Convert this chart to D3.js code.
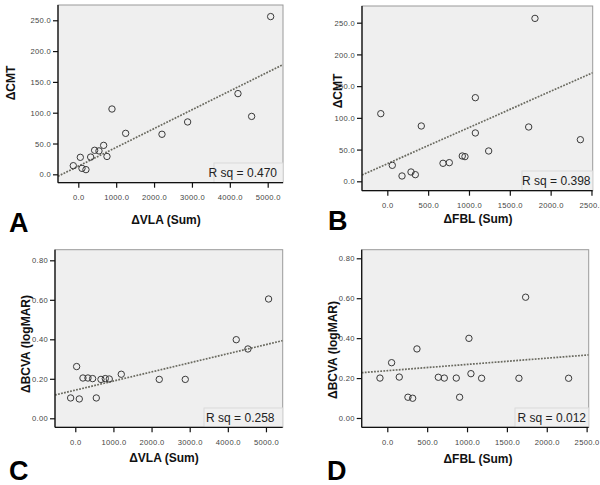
<!DOCTYPE html>
<html><head><meta charset="utf-8">
<script src="https://cdn.jsdelivr.net/npm/d3@7"></script>
<style>body{margin:0;background:#fff}svg{display:block}</style>
</head><body>
<svg id="c" width="600" height="485"></svg>
<script>
// ---- data ----
const vlaA = [-132, 53, 97, 202, 326, 431, 546, 669, 757, 889, 1250, 2209, 2886, 4215, 4576, 5078];
const cmtA = [14, 27.6, 9.7, 7.6, 28, 39, 38, 47, 29, 106, 66.5, 65, 85, 131, 94, 256];
const fblB = [-80, 61, 180, 290, 343, 416, 682, 759, 918, 951, 1078, 1078, 1241, 1731, 1808, 2364];
const cmtB = [106.6, 25.2, 8.4, 14.7, 10.5, 87.2, 28.4, 29.4, 39.9, 38.9, 131.8, 76.2, 47.8, 85.6, 256.8, 65.6];
const vlaC = [-122, 35, 105, 201, 332, 454, 551, 673, 787, 891, 1206, 2202, 2884, 4221, 4527, 5069];
const bcvaC = [0.103, 0.262, 0.098, 0.204, 0.204, 0.201, 0.103, 0.197, 0.201, 0.199, 0.223, 0.197, 0.197, 0.398, 0.351, 0.604];
const fblD = [-92, 54, 150, 259, 318, 372, 640, 715, 865, 907, 1024, 1049, 1183, 1651, 1735, 2274];
const bcvaD = [0.200, 0.277, 0.205, 0.104, 0.099, 0.346, 0.204, 0.200, 0.200, 0.104, 0.399, 0.222, 0.199, 0.199, 0.605, 0.199];
const fitIntercepts = [13.2, 27.7, 0.1426, 0.237];
const fitSlopes = [0.0305, 0.05706, 0.0000461, 0.0000313];
const rsqLabels = ["R sq = 0.470", "R sq = 0.398", "R sq = 0.258", "R sq = 0.012"];
const panelLetters = ["A", "B", "C", "D"];
const xTitles = ["\u0394VLA (Sum)", "\u0394FBL (Sum)", "\u0394VLA (Sum)", "\u0394FBL (Sum)"];
const yTitles = ["\u0394CMT", "\u0394CMT", "\u0394BCVA (logMAR)", "\u0394BCVA (logMAR)"];
const xTicksVLA = [0, 1000, 2000, 3000, 4000, 5000];
const xTicksFBL = [0, 500, 1000, 1500, 2000, 2500];
const yTicksCMT = [0, 50, 100, 150, 200, 250];
const yTicksBCVA = [0, 0.2, 0.4, 0.6, 0.8];
const xDomains = [[-536, 5404], [-310, 2515], [-532, 5439], [-321, 2526]];
const yDomains = [[-13.6, 274.8], [-14.8, 276.3], [-0.0456, 0.8537], [-0.0466, 0.843]];

// ---- layout ----
const panels = [
  {xs: vlaA, ys: cmtA, xt: xTicksVLA, yt: yTicksCMT, xf: d3.format(".1f"), yf: d3.format(".1f"),
   box: [58, 283, 5, 182.7], xTitle: [166, 224], yTitle: [15, 83], letter: [9, 232], rsq: [277, 177], rbox: [214, 163]},
  {xs: fblB, ys: cmtB, xt: xTicksFBL, yt: yTicksCMT, xf: d3.format(".1f"), yf: d3.format(".1f"),
   box: [362, 592.7, 6, 190.7], xTitle: [478, 223], yTitle: [342, 91], letter: [328, 230], rsq: [590.5, 184.5], rbox: [522, 171]},
  {xs: vlaC, ys: bcvaC, xt: xTicksVLA, yt: yTicksBCVA, xf: d3.format(".1f"), yf: d3.format(".2f"),
   box: [55, 282.7, 249.7, 427.3], xTitle: [164, 462], yTitle: [30, 344], letter: [9, 480], rsq: [274.5, 421.5], rbox: [204, 408]},
  {xs: fblD, ys: bcvaD, xt: xTicksFBL, yt: yTicksBCVA, xf: d3.format(".1f"), yf: d3.format(".2f"),
   box: [361.7, 588.7, 249.7, 427.3], xTitle: [478, 463], yTitle: [337, 350], letter: [327, 480], rsq: [586, 421.5], rbox: [515, 408]}
];

const svg = d3.select("#c");
const TF = "Arial, 'Liberation Sans', sans-serif";

panels.forEach((p, i) => {
  const [x0, x1, y0, y1] = p.box;
  const x = d3.scaleLinear().domain(xDomains[i]).range([x0, x1]);
  const y = d3.scaleLinear().domain(yDomains[i]).range([y1, y0]);
  const g = svg.append("g");
  const clipId = "clip" + i;
  svg.append("defs").append("clipPath").attr("id", clipId)
    .append("rect").attr("x", x0).attr("y", y0).attr("width", x1 - x0).attr("height", y1 - y0);

  g.append("rect").attr("x", x0).attr("y", y0).attr("width", x1 - x0).attr("height", y1 - y0)
    .attr("fill", "#efefef").attr("stroke", "#9a9a9a").attr("stroke-width", 1);

  // R sq box
  g.append("rect").attr("x", p.rbox[0]).attr("y", p.rbox[1]).attr("width", x1 - p.rbox[0]).attr("height", y1 - p.rbox[1])
    .attr("fill", "#f0f0f0").attr("stroke", "#dadada").attr("stroke-width", 1);
  g.append("text").attr("x", p.rsq[0]).attr("y", p.rsq[1]).attr("text-anchor", "end")
    .attr("font-family", TF).attr("font-size", 12).attr("fill", "#222").text(rsqLabels[i]);

  // fit line
  const xd = xDomains[i];
  g.append("line").attr("clip-path", `url(#${clipId})`)
    .attr("x1", x(xd[0])).attr("y1", y(fitIntercepts[i] + fitSlopes[i] * xd[0]))
    .attr("x2", x(xd[1])).attr("y2", y(fitIntercepts[i] + fitSlopes[i] * xd[1]))
    .attr("stroke", "#6a6a60").attr("stroke-width", 1.7).attr("stroke-dasharray", "1.8,1.3");

  // points
  g.selectAll("circle.pt").data(p.xs.map((v, k) => [v, p.ys[k]])).join("circle")
    .attr("class", "pt").attr("cx", d => x(d[0])).attr("cy", d => y(d[1])).attr("r", 3.2)
    .attr("fill", "none").attr("stroke", "#3a3a3a").attr("stroke-width", 1);

  // axes
  const xa = g.append("g").attr("transform", `translate(0,${y1})`)
    .call(d3.axisBottom(x).tickValues(p.xt).tickFormat(p.xf).tickSize(5).tickPadding(7));
  const ya = g.append("g").attr("transform", `translate(${x0},0)`)
    .call(d3.axisLeft(y).tickValues(p.yt).tickFormat(p.yf).tickSize(5).tickPadding(2));
  [xa, ya].forEach(a => {
    a.select(".domain").remove();
    a.selectAll("line").attr("stroke", "#111").attr("stroke-width", 1.2);
    a.selectAll("text").attr("font-family", TF).attr("font-size", 7.6).attr("fill", "#444")
      .attr("letter-spacing", 0.3);
  });
  ya.selectAll("text").attr("dy", "0.35em");
  // axis lines (left / bottom)
  g.append("line").attr("x1", x0).attr("x2", x0).attr("y1", y0).attr("y2", y1)
    .attr("stroke", "#111").attr("stroke-width", 1.3);
  g.append("line").attr("x1", x0).attr("x2", x1).attr("y1", y1).attr("y2", y1)
    .attr("stroke", "#111").attr("stroke-width", 1.3);

  // titles
  g.append("text").attr("x", p.xTitle[0]).attr("y", p.xTitle[1]).attr("text-anchor", "middle")
    .attr("font-family", TF).attr("font-weight", "bold").attr("font-size", 12).attr("fill", "#111")
    .text(xTitles[i]);
  g.append("text").attr("transform", `translate(${p.yTitle[0]},${p.yTitle[1]}) rotate(-90)`)
    .attr("text-anchor", "middle")
    .attr("font-family", TF).attr("font-weight", "bold").attr("font-size", 12).attr("fill", "#111")
    .text(yTitles[i]);
  g.append("text").attr("x", p.letter[0]).attr("y", p.letter[1])
    .attr("font-family", TF).attr("font-weight", "bold").attr("font-size", 27).attr("fill", "#000")
    .text(panelLetters[i]);
});
</script>
</body></html>
